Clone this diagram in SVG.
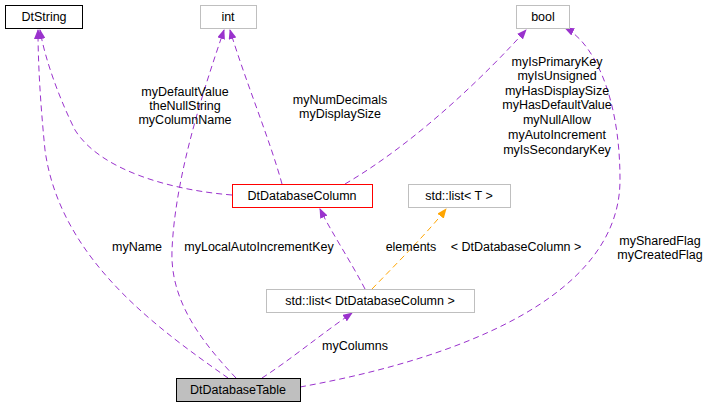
<svg xmlns="http://www.w3.org/2000/svg" width="709" height="411" viewBox="0 0 709 411">
<style>
text{font-family:"Liberation Sans",Arial,sans-serif;font-size:12.5px;fill:#000}
.n{fill:#fff;stroke:#bfbfbf}
.e{fill:none;stroke:#9a32cd;stroke-dasharray:6,4}
.o{fill:none;stroke:#ffa500;stroke-dasharray:6,4}
.m{text-anchor:middle}
</style>
<defs>
<marker id="p" markerWidth="10" markerHeight="8" refX="9" refY="4" orient="auto" markerUnits="userSpaceOnUse"><path d="M0,0L10,4L0,8z" fill="#9a32cd"/></marker>
<marker id="y" markerWidth="10" markerHeight="8" refX="9" refY="4" orient="auto" markerUnits="userSpaceOnUse"><path d="M0,0L10,4L0,8z" fill="#ffa500"/></marker>
</defs>
<rect width="709" height="411" fill="#fff"/>
<g id="edges">
<path class="e" marker-end="url(#p)" d="M228,378C160,330 60,260 45,150C40,100 38,60 38,30"/>
<path class="e" marker-end="url(#p)" d="M232,195C170,190 100,170 75,130C60,100 45,60 40,30"/>
<path class="e" marker-end="url(#p)" d="M236,378C200,340 170,300 172,250C175,180 200,100 224,30"/>
<path class="e" marker-end="url(#p)" d="M282,184C270,140 245,80 230,30"/>
<path class="e" marker-end="url(#p)" d="M345,184C420,140 490,70 526,30"/>
<path class="e" marker-end="url(#p)" d="M365,289C350,260 330,230 320,209"/>
<path class="o" marker-end="url(#y)" d="M372,289C400,260 430,230 446,209"/>
<path class="e" marker-end="url(#p)" d="M262,378C290,360 320,335 352,313"/>
<path class="e" marker-end="url(#p)" d="M300,387C450,360 620,300 620,180C620,90 590,40 565,28"/>
</g>
<g id="labels">
<text x="137" y="251" class="m">myName</text>
<text x="185" y="96" class="m">myDefaultValue</text>
<text x="185" y="110" class="m">theNullString</text>
<text x="185" y="124" class="m">myColumnName</text>
<text x="259" y="251" class="m">myLocalAutoIncrementKey</text>
<text x="340" y="104" class="m">myNumDecimals</text>
<text x="340" y="118" class="m">myDisplaySize</text>
<text x="557" y="66" class="m">myIsPrimaryKey</text>
<text x="557" y="80" class="m">myIsUnsigned</text>
<text x="557" y="95" class="m">myHasDisplaySize</text>
<text x="557" y="109" class="m">myHasDefaultValue</text>
<text x="557" y="124" class="m">myNullAllow</text>
<text x="557" y="139" class="m">myAutoIncrement</text>
<text x="557" y="154" class="m">myIsSecondaryKey</text>
<text x="411" y="251" class="m">elements</text>
<text x="516" y="251" class="m">&lt; DtDatabaseColumn &gt;</text>
<text x="355" y="350" class="m">myColumns</text>
<text x="660" y="245" class="m">mySharedFlag</text>
<text x="660" y="259" class="m">myCreatedFlag</text>
</g>
<g id="DtString"><rect x="5.5" y="5.5" width="77" height="23" fill="#fff" stroke="#000"/><text x="44" y="21" class="m">DtString</text></g>
<g id="int"><rect class="n" x="200.5" y="5.5" width="56" height="23"/><text x="228" y="21" class="m">int</text></g>
<g id="bool"><rect class="n" x="516.5" y="5.5" width="53" height="23"/><text x="543" y="21" class="m">bool</text></g>
<g id="DtDatabaseColumn"><rect x="232.5" y="184.5" width="140" height="23" fill="#fff" stroke="#ff0000"/><text x="302" y="200" class="m">DtDatabaseColumn</text></g>
<g id="listT"><rect class="n" x="408.5" y="184.5" width="102" height="23"/><text x="459" y="200" class="m">std::list&lt; T &gt;</text></g>
<g id="listCol"><rect class="n" x="266.5" y="289.5" width="208" height="23"/><text x="370" y="305" class="m">std::list&lt; DtDatabaseColumn &gt;</text></g>
<g id="DtDatabaseTable"><rect x="176.5" y="378.5" width="124" height="23" fill="#bfbfbf" stroke="#000"/><text x="238" y="394" class="m">DtDatabaseTable</text></g>
</svg>
